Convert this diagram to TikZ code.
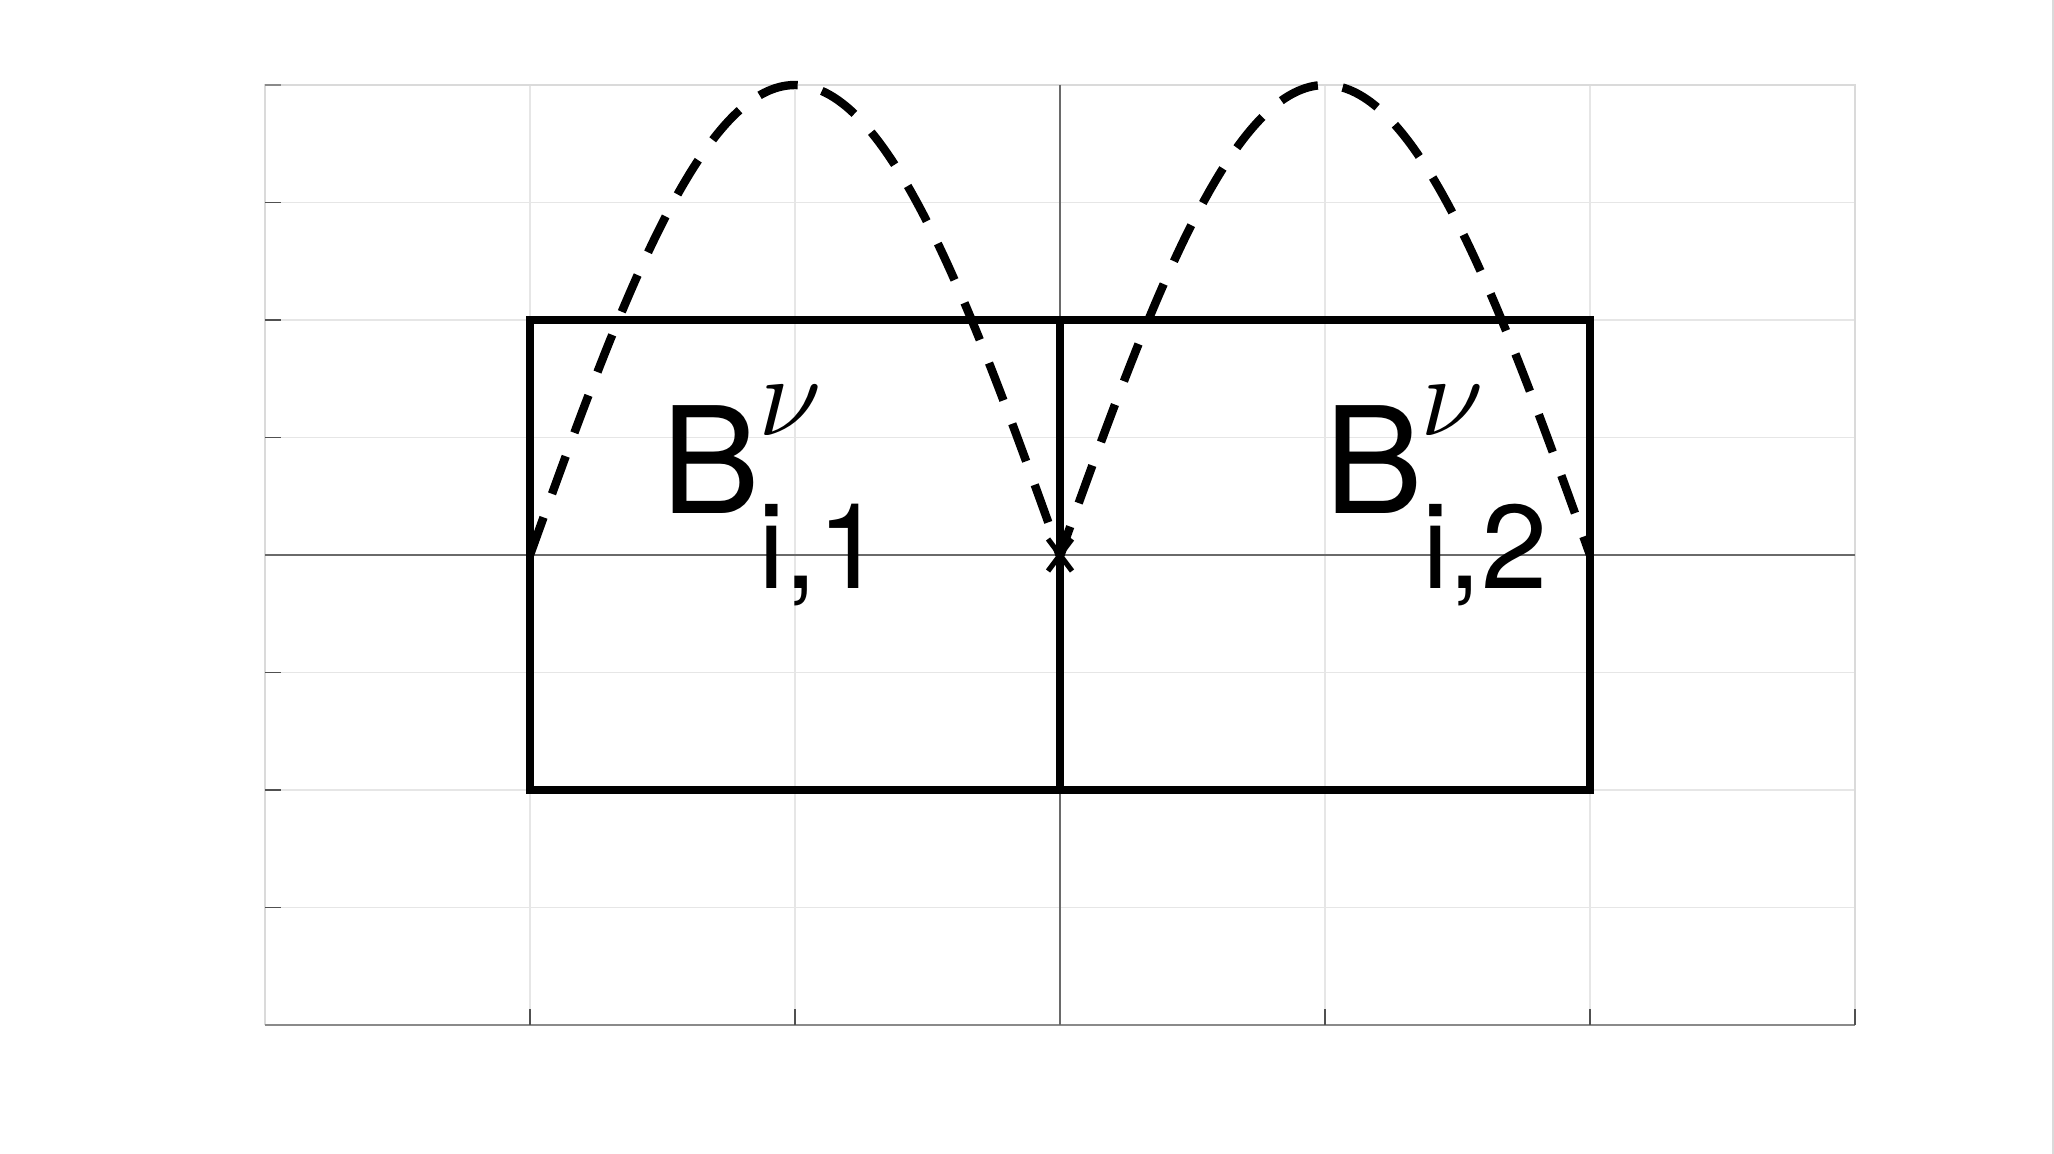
\RequirePackage{fix-cm}
\documentclass[tikz,border=0pt]{standalone}
\usepackage{fontspec}
\setmainfont{TeX Gyre Heros}
\definecolor{gridc}{HTML}{E6E6E6}
\definecolor{boxc}{HTML}{DADADA}
\definecolor{tickc}{HTML}{505050}
\definecolor{axisc}{HTML}{8A8A8A}
\definecolor{zeroc}{HTML}{6A6A6A}
\begin{document}
\begin{tikzpicture}[x=0.5pt,y=-0.5pt,
  gridline/.style={draw=gridc,line width=0.7pt},
  boxline/.style={draw=boxc,line width=0.8pt},
  tickline/.style={draw=tickc,line width=0.6pt},
  zeroline/.style={draw=zeroc,line width=0.9pt},
  blockbox/.style={draw=black,line width=3.6pt},
  curveline/.style={draw=black,line width=4.2pt,dash pattern=on 20pt off 12.5pt},
  bigB/.style={inner sep=0pt,anchor=base west,font=\fontsize{74}{80}\selectfont},
  subtxt/.style={inner sep=0pt,anchor=base west,font=\fontsize{59.5}{64}\selectfont},
  suptxt/.style={inner sep=0pt,anchor=base west,font=\fontsize{58}{62}\selectfont}]
\useasboundingbox (0,0) rectangle (2054,1154);
\fill[white] (0,0) rectangle (2054,1154);
% figure right border
\draw[draw=boxc,line width=1.2pt] (2053,0) -- (2053,1154);
% grid
\foreach \gx in {530,795,1325,1590}
  \draw[gridline] (\gx,85) -- (\gx,1025);
\foreach \k in {1,2,3,5,6,7}
  \draw[gridline] (265,85+117.5*\k) -- (1855,85+117.5*\k);
% axes box
\draw[boxline] (265,1025) -- (265,85) -- (1855,85) -- (1855,1025);
\draw[draw=axisc,line width=0.8pt] (265,1025) -- (1855,1025);
% ticks
\draw[draw=axisc,line width=0.6pt] (265,85) -- (281,85);
\foreach \k in {1,2,3,5,6,7}
  \draw[tickline] (265,85+117.5*\k) -- (281,85+117.5*\k);
\foreach \gx in {530,795,1325,1590,1855}
  \draw[tickline] (\gx,1025) -- (\gx,1009);
% zero axes
\draw[zeroline] (1060,85) -- (1060,1025);
\draw[zeroline] (265,555) -- (1855,555);
% blocks
\draw[blockbox] (530,320) rectangle (1060,790);
\draw[blockbox] (1060,320) rectangle (1590,790);
% dashed curve
\draw[curveline] plot[domain=530:1590,samples=241,smooth] (\x,{555-470*abs(sin((\x-1060)/265*90))});
% asterisk marker at origin
\coordinate (o) at (1060,555);
\draw[line width=2.6pt] ([shift={(-12,-16)}]o) -- ([shift={(12,16)}]o);
\draw[line width=2.6pt] ([shift={(-12,16)}]o) -- ([shift={(12,-16)}]o);
\draw[line width=2.6pt] ([shift={(0,-18)}]o) -- ([shift={(0,18)}]o);
% labels
\node[bigB] (b1) at (661,513) {B};
\node[suptxt] (n1) at (758,436) {$\nu$};
\node[subtxt] (s1) at (758,588) {i,1};
\node[bigB] (b2) at (1324,513) {B};
\node[suptxt] (n2) at (1420,436) {$\nu$};
\node[subtxt] (s2) at (1422,588) {i,2};
\end{tikzpicture}
\end{document}
